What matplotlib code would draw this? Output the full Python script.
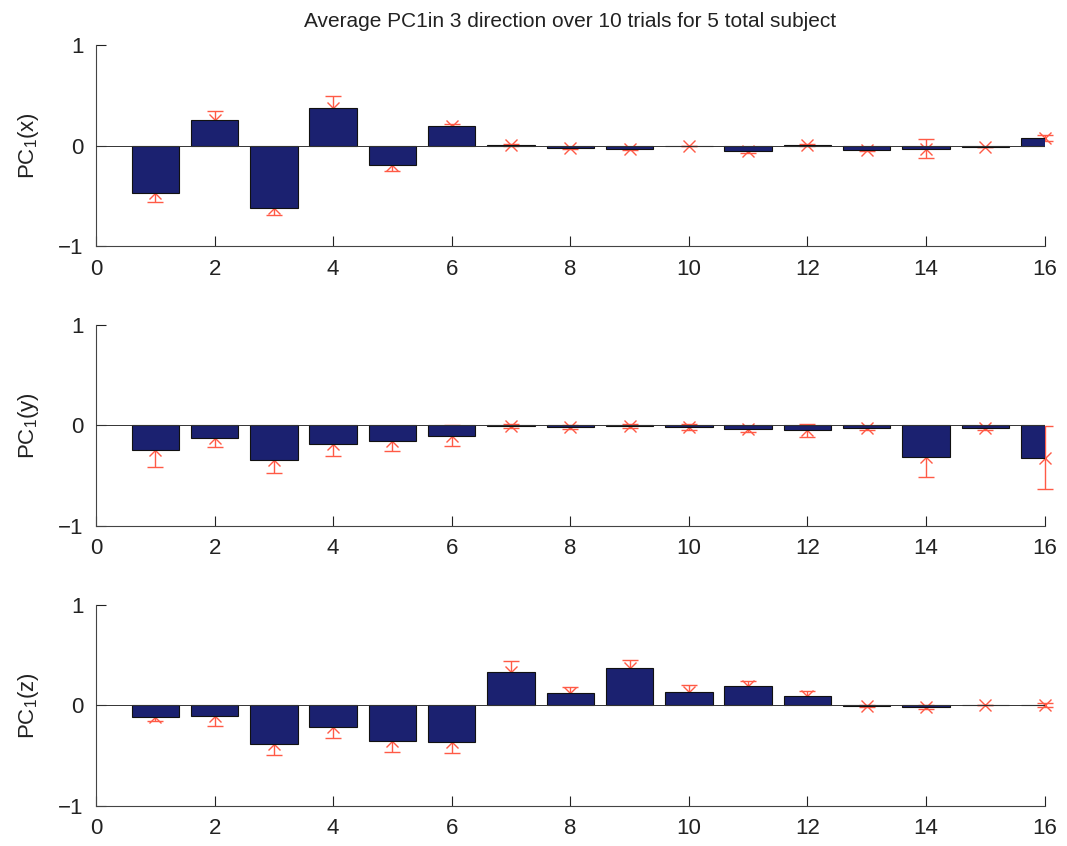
import numpy as np
import matplotlib.pyplot as plt

plt.rcParams['font.family'] = ['Liberation Sans', 'DejaVu Sans']
plt.rcParams['mathtext.default'] = 'regular'

idx = np.arange(1, 17)

# mean PC1 per direction
pc_x = [-0.47, 0.25, -0.62, 0.37, -0.195, 0.19, 0.005, -0.02,
        -0.03, 0.0, -0.05, 0.01, -0.04, -0.03, -0.01, 0.07]
err_x = [0.09, 0.09, 0.07, 0.12, 0.055, 0.02, 0.01, 0.01,
         0.01, 0.0, 0.02, 0.01, 0.01, 0.09, 0.0, 0.03]

pc_y = [-0.24, -0.126, -0.34, -0.18, -0.15, -0.10, -0.01, -0.02,
        -0.01, -0.02, -0.04, -0.05, -0.03, -0.31, -0.03, -0.32]
err_y = [0.17, 0.086, 0.13, 0.12, 0.10, 0.10, 0.02, 0.02,
         0.02, 0.03, 0.03, 0.065, 0.02, 0.20, 0.02, 0.31]

pc_z = [-0.116, -0.106, -0.38, -0.21, -0.35, -0.36, 0.33, 0.12,
        0.375, 0.13, 0.196, 0.093, -0.005, -0.02, 0.0, 0.0]
err_z = [0.04, 0.095, 0.11, 0.11, 0.11, 0.11, 0.11, 0.06,
         0.075, 0.07, 0.05, 0.055, 0.01, 0.02, 0.0, 0.02]

labels = ['PC$_1$(x)', 'PC$_1$(y)', 'PC$_1$(z)']
bar_col = '#1b2170'
err_col = '#ff5a46'

fig = plt.figure(figsize=(10.67, 8.46), dpi=100)
bottoms = [0.7092, 0.3783, 0.0473]

for k, (vals, errs) in enumerate([(pc_x, err_x), (pc_y, err_y), (pc_z, err_z)]):
    ax = fig.add_axes([0.09, bottoms[k], 0.889, 0.2376])
    ax.errorbar(idx, vals, yerr=errs, fmt='x', color=err_col, ecolor=err_col,
                elinewidth=1, capsize=6, markersize=8, mew=1, zorder=1, clip_on=False)
    ax.bar(idx, vals, width=0.8, color=bar_col, edgecolor='#111111', linewidth=0.8, zorder=2)
    ax.axhline(0, color='#333333', lw=0.7, zorder=3)
    ax.set_xlim(0, 16)
    ax.set_ylim(-1, 1)
    ax.set_xticks(np.arange(0, 17, 2))
    ax.set_yticks([-1, 0, 1])
    ax.set_yticklabels(['\u22121', '0', '1'])
    ax.spines['top'].set_visible(False)
    ax.spines['right'].set_visible(False)
    ax.spines['left'].set_color('#444444')
    ax.spines['bottom'].set_color('#444444')
    ax.tick_params(direction='in', length=7, labelsize=16, colors='#222222', pad=9)
    ax.set_ylabel(labels[k], fontsize=16, color='#222222', labelpad=12)
    if k == 0:
        ax.set_title('Average PC1in 3 direction over 10 trials for 5 total subject',
                     fontsize=15, color='#222222', pad=13)

fig.savefig('out.png', dpi=100)
